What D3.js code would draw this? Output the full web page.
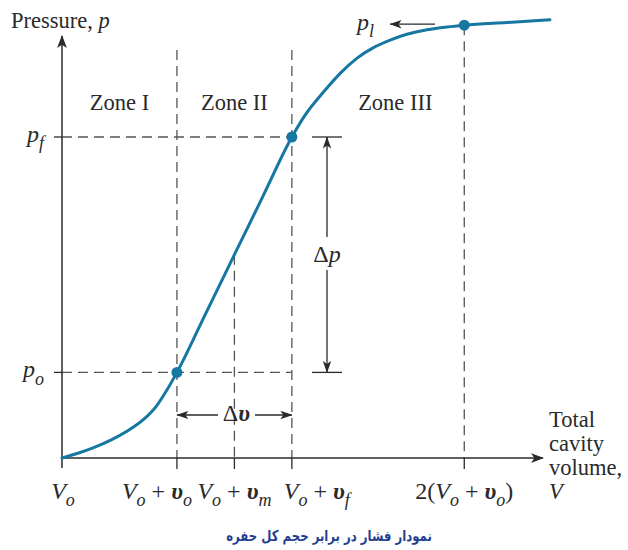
<!DOCTYPE html>
<html>
<head>
<meta charset="utf-8">
<script src="https://cdn.jsdelivr.net/npm/d3@7"></script>
<style>
  html, body { margin: 0; padding: 0; background: #fff; }
  svg text { white-space: pre; }
</style>
</head>
<body>
<svg id="chart" width="628" height="550"></svg>
<script>
// Cavity expansion: pressure versus total cavity volume (arbitrary units)
const curveVolume   = [0, 0.25, 0.54, 0.84, 1.13, 1.42, 1.65, 1.82, 2.0, 2.5, 3.0, 3.5, 4.0, 4.23, 4.55, 4.84, 5.13, 5.42, 5.71, 6.00, 6.29, 6.58, 7.0, 7.74, 8.49];
const curvePressure = [0, 0.08, 0.19, 0.33, 0.50, 0.72, 0.98, 1.26, 1.6, 2.7, 3.8, 4.9, 6.0, 6.41, 6.84, 7.19, 7.47, 7.67, 7.81, 7.92, 7.99, 8.04, 8.09, 8.14, 8.19];

// Characteristic volumes on the horizontal axis
const volumeTicks  = [0, 2, 3, 4, 7];
const volumeLabels = ["*V*_o", "*V*_o + *υ*_o", "*V*_o + *υ*_m", "*V*_o + *υ*_f", "2(*V*_o + *υ*_o)"];

// Characteristic pressures
const pressureTicks  = [1.6, 6.0];
const pressureLabels = ["*p*_o", "*p*_f"];
const limitPressure  = 8.09;
const limitLabel     = "*p*_l";

// Marked states on the curve: (V_o+υ_o, p_o), (V_o+υ_f, p_f), (2(V_o+υ_o), p_l)
const markedVolume   = [2, 4, 7];
const markedPressure = [1.6, 6.0, 8.09];

// Zones
const zoneNames   = ["Zone I", "Zone II", "Zone III"];
const zoneCenters = [1, 3, 5.8];

const caption = "نمودار فشار در برابر حجم کل حفره";

const svg = d3.select("#chart");
const ink = "#2a2a2a";
const dashGrey = "#555";
const curveColor = "#1677a2";
const serif = "'Liberation Serif', 'DejaVu Serif', serif";

const x = d3.scaleLinear().domain([0, 8.37]).range([62, 543]);
const y = d3.scaleLinear().domain([0, 8]).range([458, 30]);

const x0 = x(0), y0 = y(0);
const zoneTop = 50;

// Writes a label with *italic* runs, _x subscripts and bold υ
function richText(g, str, size) {
  const runs = [];
  let italic = false;
  for (let i = 0; i < str.length; i++) {
    const c = str[i];
    if (c === "*") { italic = !italic; continue; }
    if (c === "_") { runs.push({t: str[i + 1], it: true, sub: true}); i++; continue; }
    const bold = c === "υ";
    const last = runs[runs.length - 1];
    if (last && !last.sub && last.it === italic && last.bold === bold) last.t += c;
    else runs.push({t: c, it: italic, bold: bold, sub: false});
  }
  let shifted = false;
  runs.forEach(r => {
    const ts = g.append("tspan").text(r.t)
      .attr("font-style", r.it ? "italic" : "normal")
      .attr("font-weight", r.bold ? "bold" : "normal");
    if (r.sub && !shifted) { ts.attr("dy", size * 0.3).attr("font-size", size * 0.75); shifted = true; }
    else if (r.sub) { ts.attr("font-size", size * 0.75); }
    else if (shifted) { ts.attr("dy", -size * 0.3); shifted = false; }
  });
  return g;
}

function label(xp, yp, str, size, anchor) {
  const t = svg.append("text")
    .attr("x", xp).attr("y", yp)
    .attr("font-family", serif).attr("font-size", size)
    .attr("fill", ink).attr("text-anchor", anchor || "start");
  return richText(t, str, size);
}

// Markers
const defs = svg.append("defs");
defs.append("marker").attr("id", "axisHead")
  .attr("viewBox", "0 0 12 10").attr("refX", 11).attr("refY", 5)
  .attr("markerUnits", "userSpaceOnUse")
  .attr("markerWidth", 13).attr("markerHeight", 11).attr("orient", "auto")
  .append("path").attr("d", "M0,0.5 L12,5 L0,9.5 L3,5 Z").attr("fill", ink);
defs.append("marker").attr("id", "dimHead")
  .attr("viewBox", "0 0 12 10").attr("refX", 11.5).attr("refY", 5)
  .attr("markerUnits", "userSpaceOnUse")
  .attr("markerWidth", 12).attr("markerHeight", 10).attr("orient", "auto")
  .append("path").attr("d", "M0,0.8 L12,5 L0,9.2 L3,5 Z").attr("fill", ink);

// Dashed guide lines
const dashed = svg.append("g").attr("stroke", dashGrey).attr("stroke-width", 1.3)
  .attr("stroke-dasharray", "10,6").attr("fill", "none");

// Zone dividers at V_o+υ_o and V_o+υ_f
[volumeTicks[1], volumeTicks[3]].forEach(v => {
  dashed.append("line").attr("x1", x(v)).attr("x2", x(v)).attr("y1", zoneTop).attr("y2", y0);
});
// Vertical drops from the curve at V_o+υ_m and 2(V_o+υ_o)
[[volumeTicks[2], curvePressure[curveVolume.indexOf(volumeTicks[2])]], [markedVolume[2], markedPressure[2]]]
  .forEach(([v, p]) => {
    dashed.append("line").attr("x1", x(v)).attr("x2", x(v)).attr("y1", y(p)).attr("y2", y0);
  });
// Horizontal guides at p_o and p_f
pressureTicks.forEach(p => {
  dashed.append("line").attr("x1", x0).attr("x2", x(volumeTicks[3])).attr("y1", y(p)).attr("y2", y(p));
});

// Axes
const axes = svg.append("g").attr("stroke", ink).attr("stroke-width", 1.5).attr("fill", "none");
axes.append("line").attr("x1", x0).attr("y1", y0 + 10).attr("x2", x0).attr("y2", 36)
  .attr("marker-end", "url(#axisHead)");
axes.append("line").attr("x1", x0).attr("y1", y0).attr("x2", x.range()[1]).attr("y2", y0)
  .attr("marker-end", "url(#axisHead)");
// tick marks
volumeTicks.slice(1).forEach(v => {
  axes.append("line").attr("x1", x(v)).attr("x2", x(v)).attr("y1", y0).attr("y2", y0 + 11)
    .attr("stroke-width", 1.3);
});
pressureTicks.forEach(p => {
  axes.append("line").attr("x1", x0 - 8).attr("x2", x0).attr("y1", y(p)).attr("y2", y(p))
    .attr("stroke-width", 1.3);
});

// Pressure–volume curve
const line = d3.line().x((d, i) => x(curveVolume[i])).y((d, i) => y(curvePressure[i]))
  .curve(d3.curveMonotoneX);
svg.append("path").datum(curveVolume).attr("d", line)
  .attr("fill", "none").attr("stroke", curveColor).attr("stroke-width", 3)
  .attr("stroke-linecap", "round");

svg.append("g").selectAll("circle").data(markedVolume).join("circle")
  .attr("cx", d => x(d)).attr("cy", (d, i) => y(markedPressure[i]))
  .attr("r", 5.5).attr("fill", curveColor);

// Dimension arrows: Δp and Δυ
const dim = svg.append("g").attr("stroke", ink).attr("stroke-width", 1.3).attr("fill", "none");
const dpX = 327;
const yPo = y(pressureTicks[0]), yPf = y(pressureTicks[1]);
pressureTicks.forEach(p => {
  dim.append("line").attr("x1", dpX - 15).attr("x2", dpX + 15).attr("y1", y(p)).attr("y2", y(p));
});
dim.append("line").attr("x1", dpX).attr("x2", dpX).attr("y1", 237).attr("y2", yPf)
  .attr("marker-end", "url(#dimHead)");
dim.append("line").attr("x1", dpX).attr("x2", dpX).attr("y1", 270).attr("y2", yPo)
  .attr("marker-end", "url(#dimHead)");
label(dpX, 262, "Δ*p*", 24, "middle");

const dvY = 415;
const xVo = x(volumeTicks[1]), xVf = x(volumeTicks[3]);
dim.append("line").attr("x1", 218).attr("x2", xVo).attr("y1", dvY).attr("y2", dvY)
  .attr("marker-end", "url(#dimHead)");
dim.append("line").attr("x1", 255).attr("x2", xVf).attr("y1", dvY).attr("y2", dvY)
  .attr("marker-end", "url(#dimHead)");
label((xVo + xVf) / 2 + 2, 421, "Δ*υ*", 24, "middle");

// Limit pressure arrow
const yPl = y(limitPressure);
dim.append("line").attr("x1", 435).attr("x2", 390).attr("y1", yPl - 1).attr("y2", yPl - 1)
  .attr("marker-end", "url(#dimHead)");
label(357, yPl + 5, limitLabel, 24, "start");

// Zone labels
zoneNames.forEach((z, i) => label(x(zoneCenters[i]), 110, z, 22.5, "middle"));

// Axis labels
label(11, 28, "Pressure, *p*", 22.5, "start");
["Total", "cavity", "volume,", "*V*"].forEach((s, i) => label(549, 427 + i * 24, s, 22.5, "start"));

// Tick labels
const anchors = ["middle", "end", "middle", "start", "middle"];
const offsets = [1, 15, 0, -8, 0];
volumeTicks.forEach((v, i) => label(x(v) + offsets[i], 499, volumeLabels[i], 24, anchors[i]));
pressureTicks.forEach((p, i) => label(44, y(p) + 5, pressureLabels[i], 24, "end"));

// Caption
svg.append("text").attr("transform", "translate(329,541) scale(0.78,1)")
  .attr("text-anchor", "middle").attr("direction", "rtl")
  .attr("font-family", "'DejaVu Sans', 'Noto Sans', sans-serif").attr("font-weight", "bold")
  .attr("font-size", 15).attr("fill", "#1f3f8f").text(caption);
</script>
</body>
</html>
